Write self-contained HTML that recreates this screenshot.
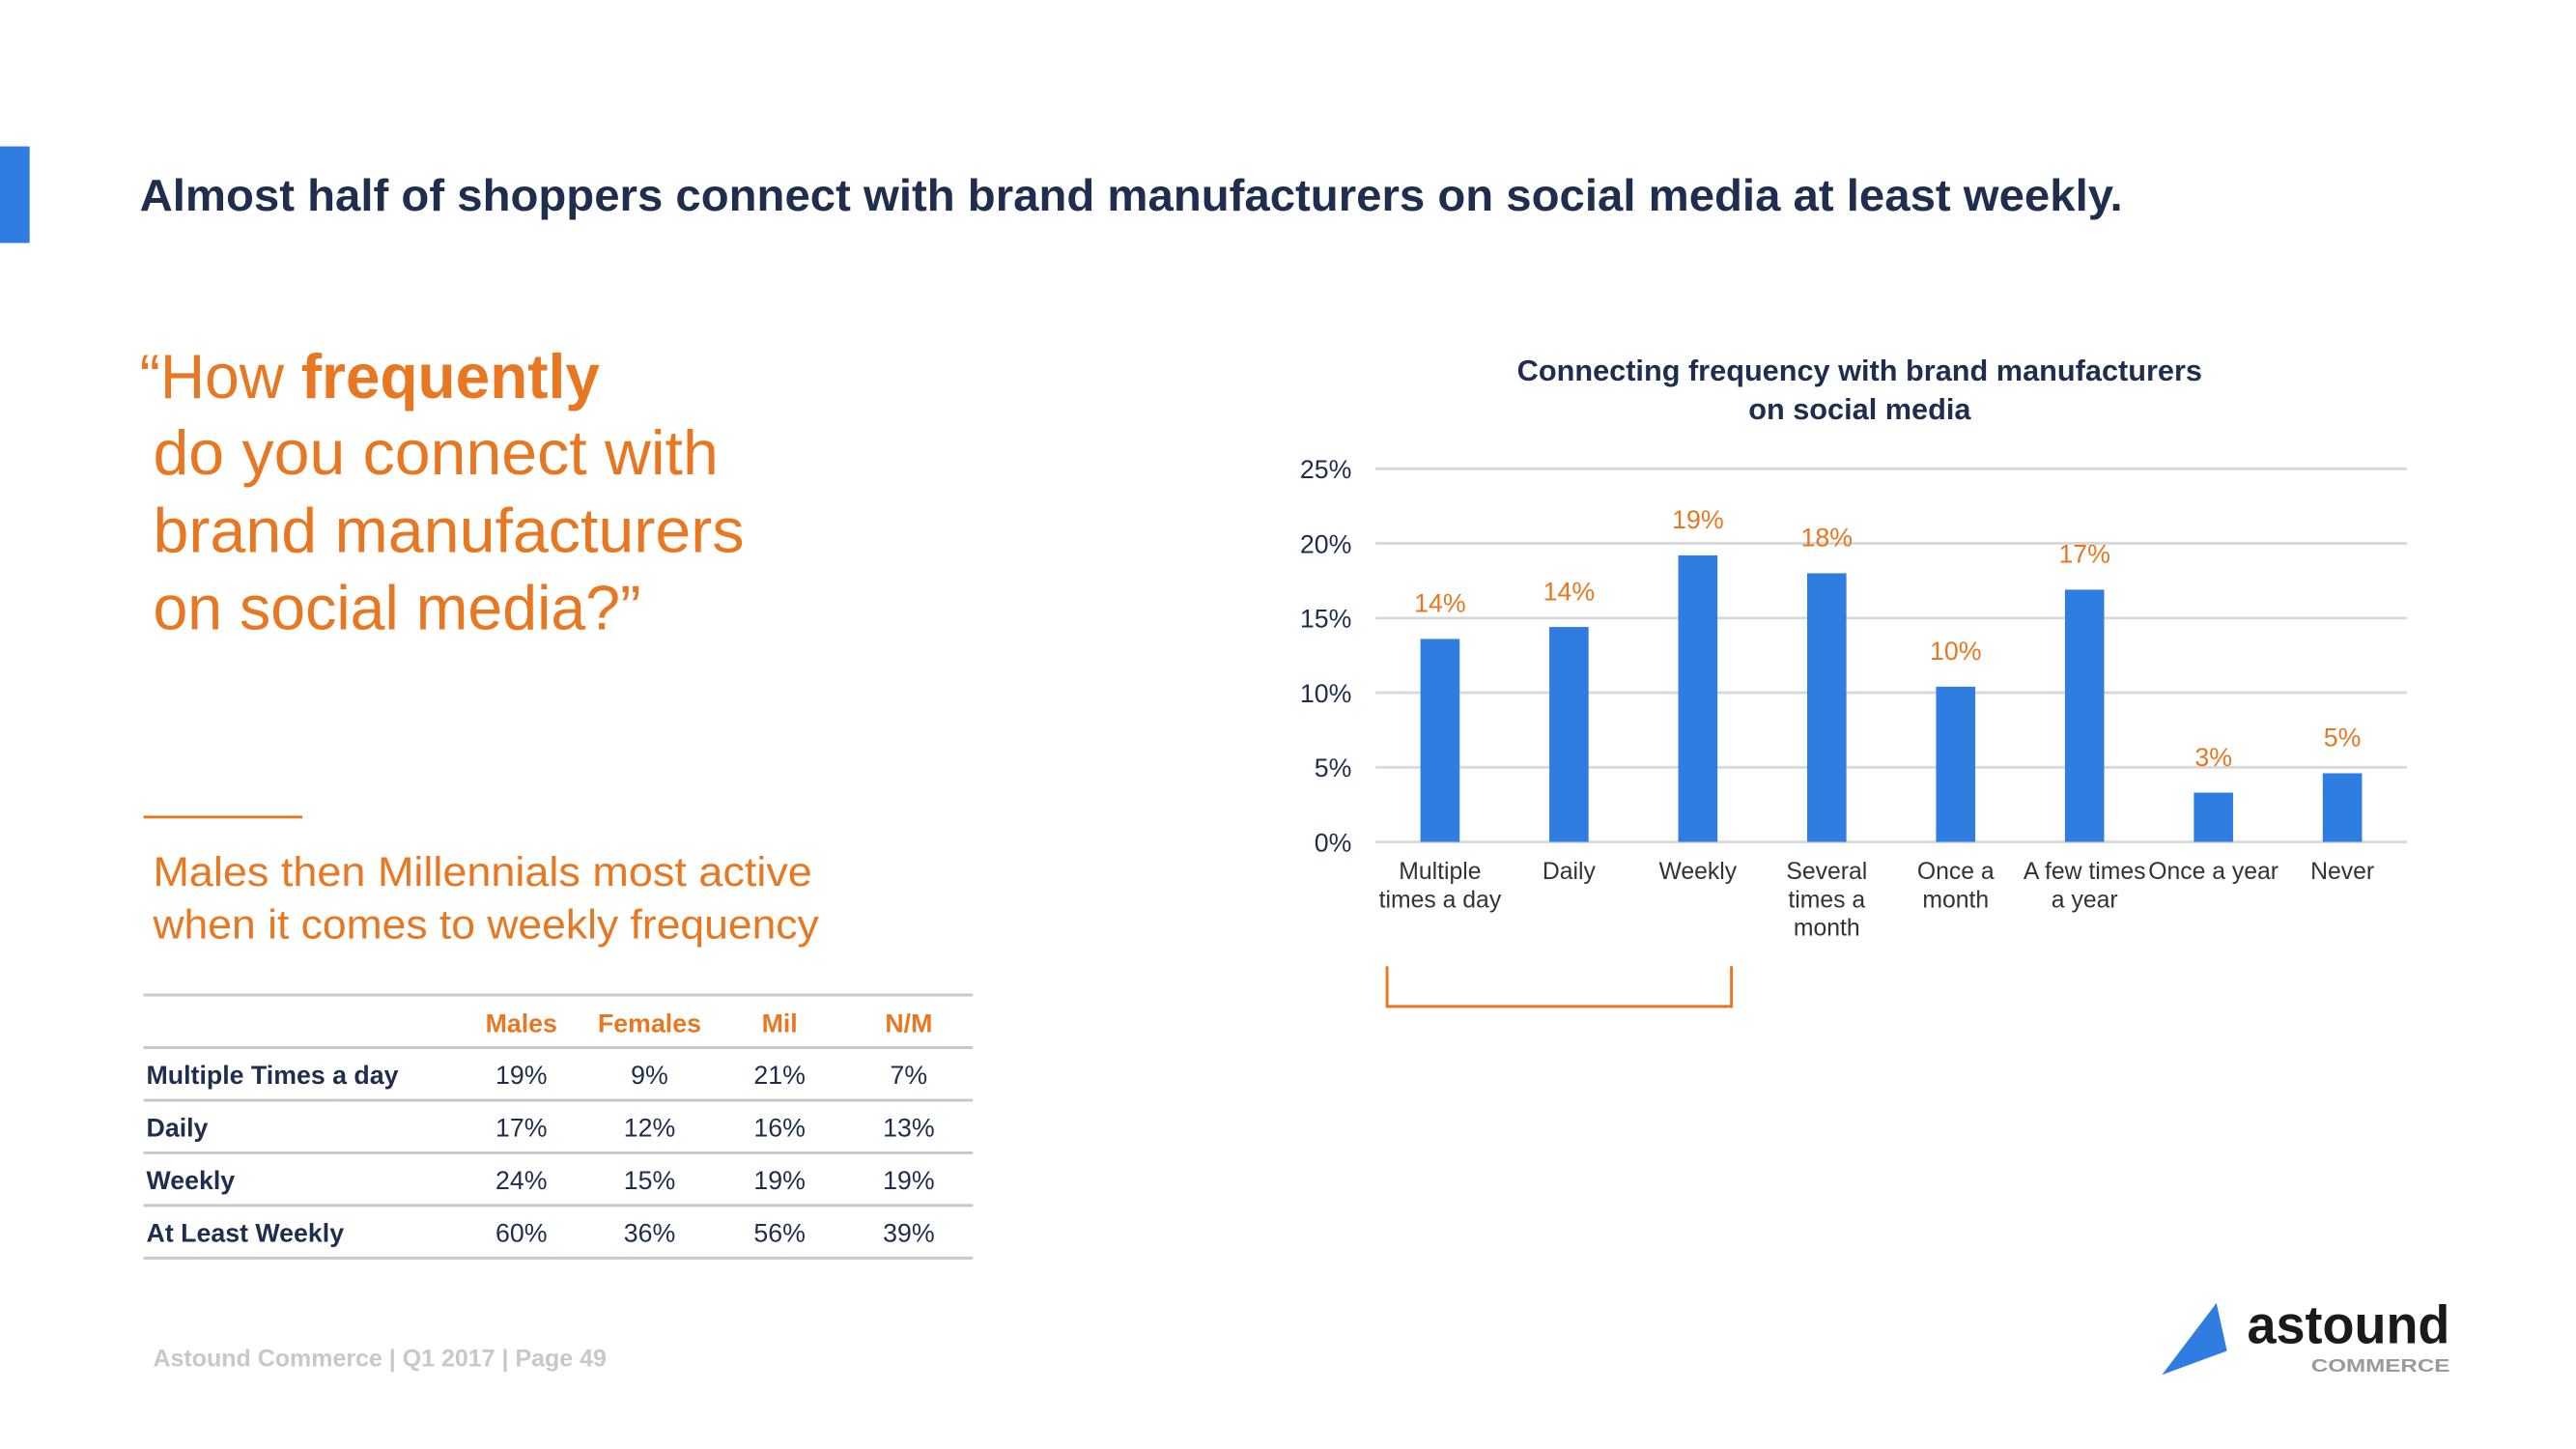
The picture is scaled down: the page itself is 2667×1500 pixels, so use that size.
<!DOCTYPE html>
<html><head><meta charset="utf-8"><style>
html,body{margin:0;padding:0;background:#fff;}
svg{display:block;font-family:"Liberation Sans",sans-serif;}
</style></head><body>
<svg id="page" width="2667" height="1500" viewBox="0 0 2667 1500">
<g transform="scale(0.9904)">
<rect x="0" y="153" width="31" height="101" fill="#2f7de1"/>
<text x="146" y="220" font-size="47" font-weight="bold" fill="#1f2d4e" textLength="2073" lengthAdjust="spacingAndGlyphs">Almost half of shoppers connect with brand manufacturers on social media at least weekly.</text>

<g fill="#e87722" font-size="66">
<text x="146" y="416" textLength="481" lengthAdjust="spacingAndGlyphs">“How <tspan font-weight="bold">frequently</tspan></text>
<text x="160" y="496" textLength="591" lengthAdjust="spacingAndGlyphs">do you connect with</text>
<text x="160" y="577" textLength="618" lengthAdjust="spacingAndGlyphs">brand manufacturers</text>
<text x="160" y="658" textLength="510" lengthAdjust="spacingAndGlyphs">on social media?”</text>
</g>
<line x1="150" y1="854" x2="316" y2="854" stroke="#e87722" stroke-width="3"/>
<g fill="#e87722" font-size="43">
<text x="160" y="926" textLength="689" lengthAdjust="spacingAndGlyphs">Males then Millennials most active</text>
<text x="160" y="981" textLength="696" lengthAdjust="spacingAndGlyphs">when it comes to weekly frequency</text>
</g>

<g id="table"></g>

<text x="160" y="1428" font-size="25" font-weight="bold" fill="#c8c8c8" textLength="474" lengthAdjust="spacingAndGlyphs">Astound Commerce | Q1 2017 | Page 49</text>

<g>
<polygon points="2317,1362 2260,1437 2328,1412" fill="#2f7de1"/>
<text x="2349" y="1404" font-size="56" font-weight="bold" fill="#1a1a1a" textLength="212" lengthAdjust="spacingAndGlyphs">astound</text>
<text x="2416" y="1434" font-size="19" font-weight="bold" fill="#9a9a9a" textLength="145" lengthAdjust="spacingAndGlyphs">COMMERCE</text>
</g>

<g id="chart">
<text x="1944" y="398" font-size="31" font-weight="bold" fill="#1f2d4e" text-anchor="middle">Connecting frequency with brand manufacturers</text>
<text x="1944" y="438" font-size="31" font-weight="bold" fill="#1f2d4e" text-anchor="middle">on social media</text>
</g>
<polyline points="1450,1010 1450,1052 1810,1052 1810,1010" fill="none" stroke="#e87722" stroke-width="3"/>
</g>
</svg>
<script>
const categories = [["Multiple","times a day"],["Daily"],["Weekly"],["Several","times a","month"],["Once a","month"],["A few times","a year"],["Once a year"],["Never"]];
const values = [13.6, 14.4, 19.2, 18.0, 10.4, 16.9, 3.3, 4.6];
const valueLabels = ["14%","14%","19%","18%","10%","17%","3%","5%"];
const yTicks = [0,5,10,15,20,25];
const yTickLabels = ["0%","5%","10%","15%","20%","25%"];

const tableHeaders = ["Males","Females","Mil","N/M"];
const tableRows = ["Multiple Times a day","Daily","Weekly","At Least Weekly"];
const tableValues = [["19%","9%","21%","7%"],["17%","12%","16%","13%"],["24%","15%","19%","19%"],["60%","36%","56%","39%"]];

const NS="http://www.w3.org/2000/svg";
const X0=1438, X1=2516, Y0=880, Y1=490, YMAX=25;
function yScale(v){return Y0-(v/YMAX)*(Y0-Y1);}
const band=(X1-X0)/categories.length;
function xCenter(i){return X0+band*(i+0.5);}
function mk(tag,attrs,parent,txt){const e=document.createElementNS(NS,tag);for(const k in attrs)e.setAttribute(k,attrs[k]);if(txt!==undefined)e.textContent=txt;parent.appendChild(e);return e;}
const chart=document.getElementById('chart');
yTicks.forEach((t,i)=>{
  const g=mk('line',{x1:X0,x2:X1,y1:yScale(t),y2:yScale(t),stroke:'#d9d9d9','stroke-width':3},chart);
  
  
  const l=mk('text',{x:1413,y:yScale(t)+10,'font-size':27,fill:'#1f2d4e','text-anchor':'end'},chart,yTickLabels[i]);
  
  
});
values.forEach((v,i)=>{
  const bw=41;
  const b=mk('rect',{x:xCenter(i)-bw/2,y:yScale(v),width:bw,height:Y0-yScale(v),fill:'#2f7de1'},chart);
  
  
  const lb=mk('text',{x:xCenter(i),y:yScale(v)-28,'font-size':27,fill:'#e87722','text-anchor':'middle'},chart,valueLabels[i]);
  
  
  categories[i].forEach((line,j)=>{
    const c=mk('text',{x:xCenter(i),y:919+j*29.5,'font-size':25,fill:'#333','text-anchor':'middle'},chart,line);
    
    
  });
});
const table=document.getElementById('table');
const lineYs=[1040,1095,1150,1205,1260,1315];
const colX=[545,679,815,950];
lineYs.forEach(y=>{
  const l=mk('line',{x1:150,x2:1017,y1:y,y2:y,stroke:'#c8c8c8','stroke-width':3},table);
  
  
});
tableHeaders.forEach((h,i)=>{
  const t=mk('text',{x:colX[i],y:1079,'font-size':27,'font-weight':'bold',fill:'#e87722','text-anchor':'middle'},table,h);
  
  
});
tableRows.forEach((r,ri)=>{
  const y=1133+ri*55;
  const t=mk('text',{x:153,y:y,'font-size':27,'font-weight':'bold',fill:'#1f2d4e'},table,r);
  
  
  tableValues[ri].forEach((v,ci)=>{
    const c=mk('text',{x:colX[ci],y:y,'font-size':27,fill:'#1f2d4e','text-anchor':'middle'},table,v);
    
    
  });
});
</script>
</body></html>
